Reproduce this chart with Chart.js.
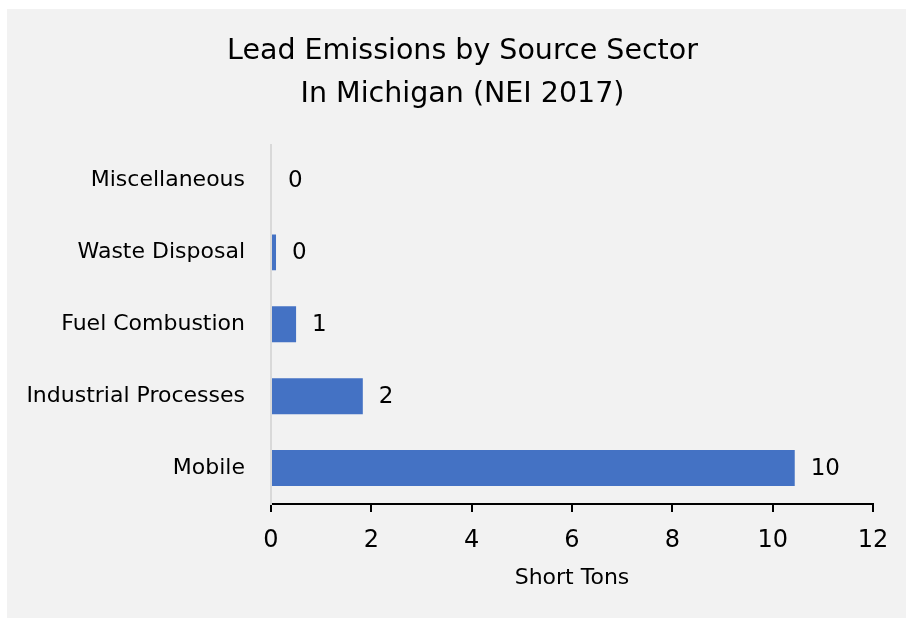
<!DOCTYPE html>
<html>
<head>
<meta charset="utf-8">
<script src="https://cdn.jsdelivr.net/npm/chart.js@4.4.1/dist/chart.umd.min.js"></script>
<style>
  html, body { margin: 0; padding: 0; background: #ffffff; }
  #wrap { position: absolute; left: 0; top: 0; width: 906px; height: 619px; }
</style>
</head>
<body>
<div id="wrap"><canvas id="c" width="906" height="619"></canvas></div>
<script>
const categories = ["Miscellaneous", "Waste Disposal", "Fuel Combustion", "Industrial Processes", "Mobile"];
const emissions = [0.02, 0.1, 0.5, 1.83, 10.44];
const xTicks = [0, 2, 4, 6, 8, 10, 12];
const titleLines = ["Lead Emissions by Source Sector", "In Michigan (NEI 2017)"];
const xTitle = "Short Tons";

const FONT = "'DejaVu Sans', sans-serif";

const panelBg = {
  id: 'panelBg',
  beforeDraw(chart) {
    const ctx = chart.ctx;
    ctx.save();
    ctx.fillStyle = '#ffffff';
    ctx.fillRect(0, 0, chart.width, chart.height);
    ctx.fillStyle = '#f2f2f2';
    ctx.fillRect(7, 9, chart.width - 7, chart.height - 10);
    ctx.restore();
  }
};

const valueLabels = {
  id: 'valueLabels',
  afterDatasetsDraw(chart) {
    const ctx = chart.ctx;
    const meta = chart.getDatasetMeta(0);
    ctx.save();
    ctx.fillStyle = '#000000';
    ctx.font = "23px " + FONT;
    ctx.textAlign = 'left';
    ctx.textBaseline = 'middle';
    meta.data.forEach((bar, i) => {
      const v = chart.data.datasets[0].data[i];
      ctx.fillText(String(Math.round(v)), bar.x + 16, bar.y + 1);
    });
    ctx.restore();
  }
};

new Chart(document.getElementById('c'), {
  type: 'bar',
  data: {
    labels: categories,
    datasets: [{
      data: emissions,
      backgroundColor: '#4472c4',
      borderWidth: 0,
      barPercentage: 0.5,
      categoryPercentage: 1.0
    }]
  },
  options: {
    indexAxis: 'y',
    responsive: false,
    animation: false,
    devicePixelRatio: 1,
    layout: { padding: { left: 19, right: 0, top: 9, bottom: 27 } },
    plugins: {
      legend: { display: false },
      tooltip: { enabled: false },
      title: {
        display: true,
        text: titleLines,
        color: '#000000',
        font: { family: FONT, size: 28.5, weight: 'normal', lineHeight: 1.5 },
        padding: { top: 21, bottom: 29 }
      }
    },
    scales: {
      x: {
        min: 0,
        max: 12,
        afterBuildTicks(scale) { scale.ticks = xTicks.map(v => ({ value: v })); },
        afterFit(scale) { scale.height = 88; },
        ticks: { color: '#000000', font: { family: FONT, size: 24 }, padding: 14 },
        grid: { display: true, drawOnChartArea: false, drawTicks: true, tickLength: 8, color: '#000000', lineWidth: 2 },
        border: { display: true, color: '#000000', width: 2 },
        title: { display: true, text: xTitle, color: '#000000', font: { family: FONT, size: 22, lineHeight: 1.0 }, padding: { top: 0, bottom: 3 } }
      },
      y: {
        afterFit(scale) { scale.width = 252; },
        ticks: { color: '#000000', font: { family: FONT, size: 22 }, padding: 18 },
        grid: { display: false },
        border: { display: true, color: '#d9d9d9', width: 2 }
      },
      yPad: {
        type: 'category',
        labels: categories,
        position: 'right',
        afterFit(scale) { scale.width = 33; },
        ticks: { display: false },
        grid: { display: false },
        border: { display: false }
      }
    }
  },
  plugins: [panelBg, valueLabels]
});
</script>
</body>
</html>
